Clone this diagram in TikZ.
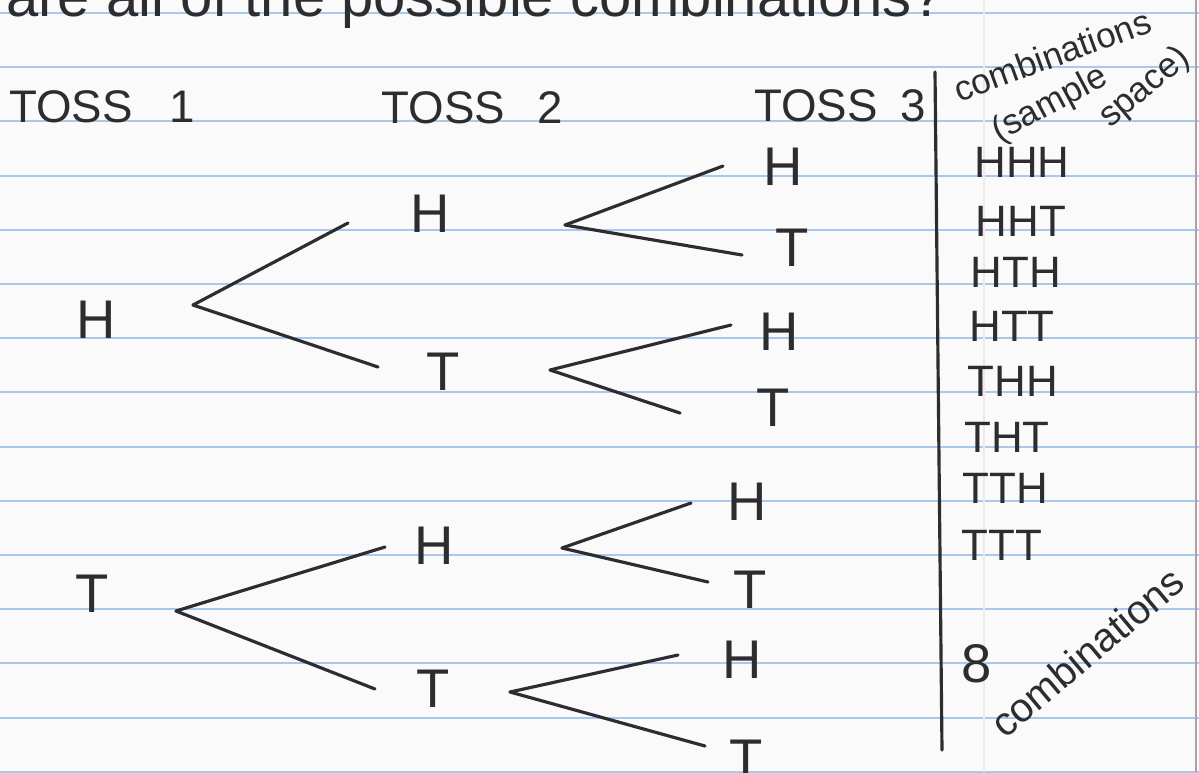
\documentclass[tikz,border=0pt]{standalone}
\usepackage{fontspec}
\setmainfont{Liberation Sans}
\usepackage{tikz}
\usetikzlibrary{calc}
\definecolor{PaperWhite}{RGB}{250,250,251}
\definecolor{RuleBlue}{RGB}{168,200,238}
\definecolor{InkGray}{RGB}{45,45,47}
\definecolor{MarginPink}{RGB}{242,230,232}
\definecolor{EdgeGray}{RGB}{165,165,168}
\tikzset{
  tosslabel/.style={text=InkGray,inner sep=0pt,font=\fontsize{26}{30}\selectfont},
  coin/.style={text=InkGray,inner sep=0pt,font=\fontsize{31}{34}\selectfont},
  combo/.style={text=InkGray,inner sep=0pt,font=\fontsize{25}{30}\selectfont},
  note/.style={text=InkGray,inner sep=0pt,font=\fontsize{20}{24}\selectfont},
  branch/.style={draw=InkGray,line width=1.8pt,line cap=round},
  ruled/.style={draw=RuleBlue,line width=1.1pt}
}

\begin{document}
\begin{tikzpicture}[x=0.02cm,y=-0.02cm]
\useasboundingbox (0,0) rectangle (1199,772);
\clip (0,0) rectangle (1199,772);
\fill[PaperWhite] (0,0) rectangle (1199,772);
\foreach \k in {0,...,14}
  \draw[ruled] (0,{13+54.2*\k}) -- (1199,{13+54.2*\k});
\draw[MarginPink,line width=1pt] (984,0) -- (984,772);
\draw[EdgeGray,line width=1.5pt] (1196,0) -- (1196,772);

\node[note,font=\fontsize{33}{36}\selectfont,anchor=base west] (question) at (6,16) {are all of the possible combinations?};

\node[tosslabel] (toss1) at (102,107) {TOSS\hspace{0.8em}1};
\node[tosslabel] (toss2) at (472,108) {TOSS\hspace{0.7em}2};
\node[tosslabel] (toss3) at (840,106) {TOSS\hspace{0.5em}3};

\node[coin] (h) at (96,320) {H};
\node[coin] (t) at (92,594) {T};
\node[coin] (hH) at (430,214) {H};
\node[coin] (hT) at (443,372) {T};
\node[coin] (tH) at (434,546) {H};
\node[coin] (tT) at (433,689) {T};
\node[coin] (hHH) at (783,167) {H};
\node[coin] (hHT) at (792,248) {T};
\node[coin] (hTH) at (779,332) {H};
\node[coin] (hTT) at (773,408) {T};
\node[coin] (tHH) at (747,502) {H};
\node[coin] (tHT) at (750,590) {T};
\node[coin] (tTH) at (742,660) {H};
\node[coin] (tTT) at (746,759) {T};

\coordinate (fh) at (193,305);
\coordinate (ft) at (176,611);
\coordinate (fhH) at (565,225);
\coordinate (fhT) at (550,370);
\coordinate (ftH) at (562,548);
\coordinate (ftT) at (510,692);

\foreach \f/\c/\dx/\dy in {fh/hH/-82/9, fh/hT/-65/-5, ft/tH/-49/1, ft/tT/-58/0,
  fhH/hHH/-60/-1, fhH/hHT/-50/7, fhT/hTH/-48/-7, fhT/hTT/-93/5,
  ftH/tHH/-56/1, ftH/tHT/-42/-8, ftT/tTH/-64/-5, ftT/tTT/-41/-13}
  \draw[branch] (\f) -- ([shift={(\dx,\dy)}]\c.center);

\draw[branch] (935,72) -- (942,750);

\node[note,rotate=20] (samplehead) at (1052,55) {combinations};
\node[note,rotate=28] (sample) at (1050,105) {(sample};
\node[note,rotate=40] (space) at (1145,88) {space)};

\foreach \s/\x/\y [count=\i] in {HHH/1022/162, HHT/1021/221, HTH/1016/272, HTT/1012/326,
  THH/1013/381, THT/1007/437, TTH/1005/488, TTT/1002/545}
  \node[combo] (c\i) at (\x,\y) {\s};

\node[coin] (total) at (977,664) {8};
\node[note,font=\fontsize{23}{26}\selectfont,rotate=40] (totalword) at (1087,652) {combinations};
\end{tikzpicture}
\end{document}
